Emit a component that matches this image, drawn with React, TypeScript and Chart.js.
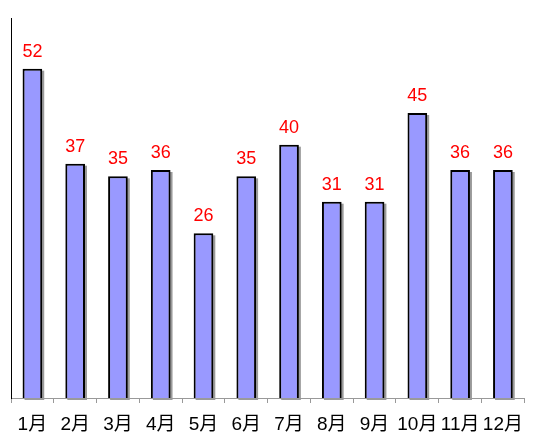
import React, { useEffect, useRef } from "react";
import { Chart, registerables } from "chart.js";

Chart.register(...registerables);

const categories = ["1月", "2月", "3月", "4月", "5月", "6月", "7月", "8月", "9月", "10月", "11月", "12月"];
const values = [52, 37, 35, 36, 26, 35, 40, 31, 31, 45, 36, 36];
const yMax = 60;

const FONT = "'Liberation Sans', Arial, 'Noto Sans CJK SC', sans-serif";

const shadowPlugin = {
  id: "barShadow",
  beforeDatasetsDraw(chart: any) {
    const ctx = chart.ctx;
    const meta = chart.getDatasetMeta(0);
    ctx.save();
    ctx.fillStyle = "#9a9a9a";
    meta.data.forEach((bar: any) => {
      const w = bar.width;
      const left = bar.x - w / 2;
      ctx.fillRect(left + 2, bar.y + 2, w, bar.base - bar.y);
    });
    ctx.restore();
  },
};

const labelPlugin = {
  id: "valueLabels",
  afterDatasetsDraw(chart: any) {
    const ctx = chart.ctx;
    const meta = chart.getDatasetMeta(0);
    ctx.save();
    ctx.fillStyle = "#ff0000";
    ctx.font = "18px " + FONT;
    ctx.textAlign = "center";
    ctx.textBaseline = "alphabetic";
    meta.data.forEach((bar: any, i: number) => {
      ctx.fillText(String(values[i]), bar.x, bar.y - 12);
    });
    ctx.restore();
  },
};

export default function App() {
  const ref = useRef<HTMLCanvasElement>(null);
  useEffect(() => {
    const chart = new Chart(ref.current as HTMLCanvasElement, {
      type: "bar",
      data: {
        labels: categories,
        datasets: [
          {
            data: values,
            backgroundColor: "#9999ff",
            borderColor: "#000000",
            borderWidth: 2,
            borderSkipped: "bottom",
            barPercentage: 0.46,
            categoryPercentage: 1,
          },
        ],
      },
      options: {
        responsive: false,
        animation: false,
        events: [],
        layout: { padding: { left: 11, right: 1, top: 18, bottom: 0 } },
        plugins: { legend: { display: false }, tooltip: { enabled: false } },
        scales: {
          x: {
            offset: true,
            grid: {
              offset: true,
              drawOnChartArea: false,
              drawTicks: true,
              tickLength: 5,
              color: "#999999",
            },
            border: { display: true, color: "#999999", width: 1 },
            ticks: {
              color: "#000000",
              font: { size: 19, family: FONT },
              padding: 10,
              maxRotation: 0,
              autoSkip: false,
            },
            afterFit(scale: any) {
              scale.height = 36;
            },
          },
          y: {
            min: 0,
            max: yMax,
            grid: { display: false, drawTicks: false },
            border: { display: true, color: "#000000", width: 1 },
            ticks: { display: false },
            afterFit(scale: any) {
              scale.width = 0;
            },
          },
        },
      },
      plugins: [shadowPlugin, labelPlugin],
    });
    return () => chart.destroy();
  }, []);
  return (
    <div style={{ position: "absolute", left: 0, top: 0, width: 533, height: 434, background: "#fff" }}>
      <canvas ref={ref} width={533} height={434} />
    </div>
  );
}
